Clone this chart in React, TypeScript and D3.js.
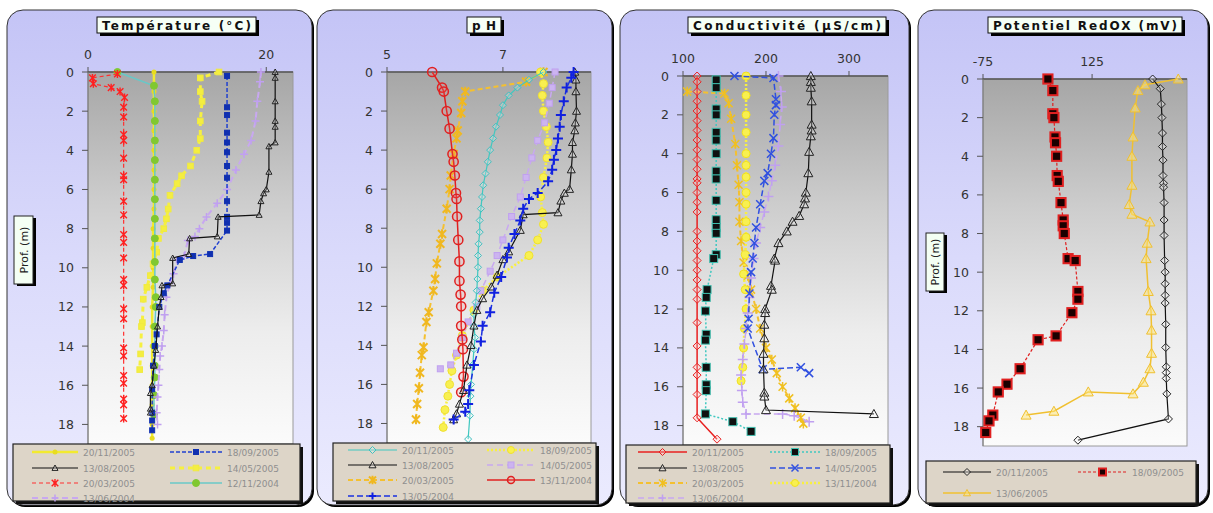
import React from "react";
import * as d3 from "d3";

type P = [number, number]; // [value, depth m]

// ---------------- Température (°C) ----------------
const tempXTicks = [0, 20];
const temp_201105: P[] = [[7.4,0],[7.4,1],[7.4,2],[7.4,3],[7.4,4],[7.4,5],[7.4,6],[7.4,7],[7.3,8],[7.3,9],[7.3,10],[7.3,11],[7.2,12],[7.2,13],[7.2,14],[7.2,15],[7.2,16],[7.2,17],[7.2,18],[7.2,18.7]];
const temp_130805: P[] = [[21,0],[21,0.3],[21,1.5],[21,2.5],[21,2.8],[21,3.6],[20.3,3.8],[20.3,5.1],[20,6],[19.7,6.2],[19.4,6.6],[19.2,7.3],[14.6,7.4],[14.5,8.4],[11.4,8.5],[11.3,9.3],[9.5,9.5],[9.5,10.8],[8.3,10.9],[8.2,11.5],[8.0,12.0],[7.8,13],[7.6,14.2],[7.4,15],[7.2,16],[7.0,16.4],[7.0,17.2],[7.0,17.4]];
const temp_200305: P[] = [[3.3,0.1],[0.5,0.3],[0.6,0.6],[2.6,0.8],[3.6,1.0],[4.1,1.3],[4.0,1.8],[4.0,2.3],[4.0,3.2],[4.0,3.5],[4.0,4.4],[4.0,5.3],[4.0,5.5],[4.0,6.6],[4.0,7.3],[4.0,8.3],[4.0,8.7],[4.0,9.5],[4.0,10.6],[4.0,10.9],[4.0,12.1],[4.0,12.6],[4.0,14.1],[4.0,14.5],[4.0,15.5],[4.0,15.9],[4.0,16.7],[4.0,17.0],[4.0,17.7]];
const temp_130604: P[] = [[19.4,0],[19.3,0.5],[19.0,1.5],[18.8,2.5],[18.3,3.5],[17.5,4.2],[16.6,5],[15.6,6],[14.5,6.7],[13.3,7.4],[12.5,8],[12,8.4],[11.2,8.6],[10.8,9.4],[10,9.6],[9.6,10.3],[9.2,10.8],[8.8,11.5],[8.6,12.4],[8.5,13.2],[8.3,14],[8.1,14.5],[8.0,15.2],[7.9,16],[7.8,16.6],[7.7,17.4],[7.8,18]];
const temp_180905: P[] = [[15.6,0.2],[15.6,1.8],[15.6,2.2],[15.6,3.1],[15.6,3.6],[15.6,4.1],[15.6,4.8],[15.6,5.4],[15.6,6.6],[15.6,7.4],[15.6,7.7],[15.6,8.1],[13.7,9.3],[11.8,9.4],[10.3,9.6],[8.9,10.9],[8.5,11.3],[8.0,12],[7.7,13.4],[7.5,14],[7.3,15],[7.2,16.2],[7.2,17.4],[7.2,17.8],[7.2,18.3]];
const temp_140505: P[] = [[14.7,0],[12.6,0.3],[12.6,1],[12.8,1.5],[12.6,2.5],[12.6,3.4],[12.2,4],[11.5,4.8],[10.5,5.3],[10,5.7],[9.2,6.3],[9.0,7.0],[8.8,7.5],[8.5,8],[7.9,8.5],[7.7,9.2],[7.3,9.8],[7.0,10.4],[6.6,11],[6.2,11.6],[6.1,12.8],[6.0,13],[5.9,14.4],[5.8,15.2]];
const temp_121104: P[] = [[3.3,0],[7.4,0.7],[7.5,1.5],[7.5,2.5],[7.5,3.5],[7.5,4.5],[7.5,5.5],[7.5,6.5],[7.5,7.5],[7.5,8.5],[7.5,9.7],[7.5,10.6],[7.6,11.5],[7.6,12],[7.5,13],[7.5,14],[7.5,15],[7.5,15.6],[7.4,16.5],[7.4,17.5]];

// ---------------- pH ----------------
const phXTicks = [5, 7];
const ph_201105: P[] = [[7.7,0],[7.45,0.4],[7.25,0.8],[7.1,1.2],[7.0,1.7],[6.95,2.2],[6.88,2.8],[6.83,3.4],[6.78,4.0],[6.74,4.6],[6.7,5.2],[6.66,5.8],[6.64,6.4],[6.62,7],[6.6,7.6],[6.6,8.2],[6.58,8.8],[6.57,9.4],[6.57,10],[6.56,10.6],[6.55,11.2],[6.53,11.8],[6.5,12.4],[6.5,13],[6.52,13.6],[6.5,14.2],[6.48,15],[6.45,16],[6.44,16.6],[6.43,17.6],[6.4,18.8]];
const ph_130805: P[] = [[8.24,0],[8.26,0.4],[8.26,1],[8.27,2],[8.25,2.6],[8.24,3],[8.2,3.6],[8.2,4.2],[8.18,5],[8.15,6],[8.06,6.2],[8.0,6.6],[7.95,7.2],[7.35,7.3],[7.3,8.1],[7.1,9.2],[7.0,9.6],[6.9,10.4],[6.8,11],[6.65,11.6],[6.55,12.2],[6.5,13],[6.45,14],[6.38,15],[6.32,16.3],[6.25,17],[6.2,17.5],[6.15,17.8]];
const ph_200305: P[] = [[7.7,0],[7.4,0.5],[6.35,1.0],[6.3,1.5],[6.28,2.1],[6.22,3.0],[6.2,3.4],[6.15,4.2],[6.1,5.3],[6.08,6.0],[6.03,7.0],[5.95,8.3],[5.92,8.8],[5.86,9.8],[5.83,10.6],[5.8,11.2],[5.72,12.3],[5.68,12.8],[5.63,14.1],[5.6,14.5],[5.57,15.4],[5.55,16.2],[5.52,17.0],[5.5,17.8]];
const ph_130504: P[] = [[8.22,0],[8.18,0.3],[8.1,0.8],[8.05,1.5],[8.0,2.2],[7.98,2.8],[7.95,3.4],[7.92,4.0],[7.88,4.5],[7.85,5.0],[7.78,5.6],[7.6,6.2],[7.45,6.5],[7.35,7],[7.3,7.6],[7.2,8.3],[7.1,9.0],[7.07,9.5],[6.97,10.5],[6.85,11.3],[6.78,12.3],[6.65,13],[6.62,13.8],[6.5,15],[6.42,16.3],[6.4,17],[6.35,17.4],[6.15,17.8]];
const ph_180905: P[] = [[7.65,0],[7.7,0.6],[7.68,1.2],[7.7,2],[7.75,2.8],[7.78,3.6],[7.76,4.4],[7.7,5.4],[7.65,6.4],[7.68,7.2],[7.7,7.8],[7.6,8.6],[7.45,9.4],[6.9,10.5],[6.65,11.2],[6.5,12.2],[6.3,13.5],[6.2,14.5],[6.12,15.3],[6.08,16.0],[6.05,16.6],[6.0,17.3],[5.97,18.2]];
const ph_140505: P[] = [[7.9,0],[7.85,0.8],[7.8,1.6],[7.72,2.6],[7.6,3.5],[7.5,4.4],[7.4,5.4],[7.3,6.4],[7.15,7.4],[7.0,8.6],[6.9,9.4],[6.78,10.2],[6.62,11.2],[6.55,12.0],[6.4,12.8],[6.3,13.6],[6.2,14.4],[6.1,15.0],[5.92,15.2]];
const ph_131104: P[] = [[5.78,0],[5.95,0.8],[5.98,1.0],[6.03,2.0],[6.08,2.9],[6.13,4.2],[6.15,4.6],[6.17,5.3],[6.19,6.2],[6.2,6.5],[6.21,7.4],[6.23,8.6],[6.25,9.7],[6.25,10.7],[6.27,11.4],[6.28,12.0],[6.28,13.0],[6.3,13.7],[6.31,14.2],[6.32,15.6],[6.28,16.4]];

// ---------------- Conductivité (µS/cm) ----------------
const condXTicks = [100, 200, 300];
const cond_201105: P[] = [[117,0],[117,0.3],[117,0.8],[117,1.3],[117,1.8],[117,2.3],[117,2.8],[117,3.3],[117,3.8],[117,4.3],[117,4.8],[117,5.3],[117,5.5],[117,6],[117,6.5],[117,7],[117,8],[117,8.5],[117,9],[117,9.5],[117,10],[117,10.5],[117,11],[117,11.5],[117,12.7],[117,13.9],[117,15],[117,15.4],[117,16.4],[117,17.6],[141,18.7]];
const cond_130805: P[] = [[254,0],[254,0.3],[254,0.6],[255,1.3],[255,2.5],[255,2.8],[254,3.1],[252,3.9],[251,5.0],[248,6.0],[247,6.3],[246,6.6],[240,7.2],[232,7.5],[225,8.0],[215,8.6],[210,9.4],[211,9.5],[206,10.8],[207,11.0],[199,12.0],[199,12.2],[198,12.8],[198,13.5],[197,14.3],[197,15.1],[198,16.3],[198,16.5],[200,17.2],[330,17.4]];
const cond_200305: P[] = [[105,0.8],[150,0.9],[155,1.4],[158,2.2],[163,3.5],[165,4.6],[167,5.6],[168,6.5],[168,7.5],[170,8.5],[173,9.6],[178,10.3],[182,11.0],[188,12.0],[193,13.0],[200,14.0],[207,14.6],[213,15.3],[220,16.0],[228,16.6],[235,17.1],[242,17.6],[245,17.9]];
const cond_130604: P[] = [[215,0],[218,0.8],[219,1.6],[217,2.5],[215,3.6],[211,4.6],[207,5.4],[203,6.2],[198,7.0],[193,7.8],[188,8.6],[185,9.4],[182,10.4],[180,11.4],[178,12.2],[176,13.0],[174,13.8],[172,14.6],[170,15.4],[171,16.2],[172,16.8],[176,17.4],[220,17.4],[234,17.5],[252,17.8]];
const cond_180905: P[] = [[140,0.2],[140,0.6],[140,1.7],[140,2.0],[140,2.9],[140,3.3],[140,4.0],[140,4.9],[140,5.3],[140,6.4],[140,7.4],[140,7.8],[140,8.1],[140,9.2],[137,9.4],[129,11.0],[128,11.4],[127,12.1],[128,13.3],[127,13.6],[128,15.0],[128,15.9],[128,16.2],[127,17.4],[160,17.8],[182,18.3]];
const cond_140505: P[] = [[162,0],[209,0.1],[212,1.2],[212,1.5],[210,2.0],[209,3.2],[206,4.0],[202,5.0],[198,5.4],[193,6.6],[188,7.8],[186,8.6],[184,9.4],[182,10.1],[180,11.2],[179,12.5],[178,13.0],[196,15.1],[242,15.0],[252,15.3]];
const cond_131104: P[] = [[176,0],[176,1],[176,2],[176,2.9],[176,4],[176,4.6],[176,5.2],[176,6],[176,6.6],[176,7.5],[176,8.3],[175,9.2],[173,10.2],[175,11.0],[176,12.0],[174,13.0],[173,14.0],[172,15.0],[170,15.7]];

// ---------------- Potentiel RedOX (mV) ----------------
const redoxXTicks = [-75, 125];
const redox_201105: P[] = [[236,0],[250,0.5],[252,1.3],[253,2],[254,2.8],[254,3.5],[255,4.2],[255,5],[256,5.4],[256,5.6],[257,6.4],[257,7.3],[257,8.1],[258,9.4],[259,10],[259,10.6],[259,11.2],[259,11.6],[260,12.7],[260,13.9],[261,14.9],[261,15.2],[261,15.5],[262,16.3],[265,17.6],[99,18.7]];
const redox_180905: P[] = [[44,0],[53,0.6],[53,1.8],[55,2],[57,3],[58,3.3],[60,4],[61,5],[63,5.3],[68,6.4],[72,7.3],[72,7.6],[74,8],[81,9.3],[94,9.4],[99,11],[99,11.4],[88,12.1],[59,13.3],[26,13.5],[-7,15],[-31,15.8],[-47,16.2],[-57,17.4],[-64,17.7],[-70,18.3]];
const redox_130605: P[] = [[283,0],[222,0.3],[209,0.6],[204,1.5],[200,3],[198,4],[198,5.5],[193,6.5],[198,7],[231,7.4],[226,8.5],[224,9.3],[228,11],[233,12],[234,13],[234,14.2],[231,15],[219,15.7],[200,16.3],[118,16.2],[55,17.2],[4,17.4]];

// ---------------- styles ----------------
type St = { line: string; w: number; dash?: string; m: string; mStroke: string; mFill: string; s: number; sw?: number };
const BLACK_TRI: St = { line: "#111", w: 1.2, m: "triangle", mStroke: "#222", mFill: "rgba(255,255,255,0.25)", s: 4 };

type Series = { label: string; data: P[]; st: St };

const tempSeries: Series[] = [
  { label: "20/11/2005", data: temp_201105, st: { line: "#f2ea30", w: 2.5, m: "dot", mStroke: "#e8dc20", mFill: "#e8dc20", s: 2.5 } },
  { label: "14/05/2005", data: temp_140505, st: { line: "#f6f040", w: 3, dash: "5,4", m: "square", mStroke: "#f0ea40", mFill: "#f4ee40", s: 2.8 } },
  { label: "12/11/2004", data: temp_121104, st: { line: "#68c8c8", w: 1.5, m: "circle", mStroke: "#80c830", mFill: "#80c830", s: 3.5 } },
  { label: "20/03/2005", data: temp_200305, st: { line: "#ff3030", w: 1.2, dash: "4,3", m: "asterisk", mStroke: "#ff2020", mFill: "none", s: 3.3, sw: 1.4 } },
  { label: "13/06/2004", data: temp_130604, st: { line: "#c8a8f0", w: 2, dash: "6,4", m: "plus", mStroke: "#c0a0f0", mFill: "none", s: 4, sw: 1.5 } },
  { label: "18/09/2005", data: temp_180905, st: { line: "#2040d0", w: 1.5, dash: "4,2", m: "square", mStroke: "#1030b0", mFill: "#1030b0", s: 2.5 } },
  { label: "13/08/2005", data: temp_130805, st: { ...BLACK_TRI, s: 3 } },
];
const tempLegend = [["20/11/2005", "13/08/2005", "20/03/2005", "13/06/2004"], ["18/09/2005", "14/05/2005", "12/11/2004"]];

const phSeries: Series[] = [
  { label: "20/03/2005", data: ph_200305, st: { line: "#f4c030", w: 2, dash: "5,3", m: "asterisk", mStroke: "#f0b820", mFill: "none", s: 4, sw: 2 } },
  { label: "18/09/2005", data: ph_180905, st: { line: "#f8f040", w: 2.5, dash: "2,2", m: "circle", mStroke: "#f0e030", mFill: "#f8f050", s: 4 } },
  { label: "14/05/2005", data: ph_140505, st: { line: "#c8a8f0", w: 1.5, dash: "6,4", m: "square", mStroke: "#c0a0f0", mFill: "#ccb4f0", s: 3 } },
  { label: "20/11/2005", data: ph_201105, st: { line: "#40c8c0", w: 1.2, m: "diamond", mStroke: "#40c0c0", mFill: "rgba(255,255,255,0.2)", s: 3.5 } },
  { label: "13/11/2004", data: ph_131104, st: { line: "#e02020", w: 1.5, m: "circle", mStroke: "#e02020", mFill: "rgba(255,120,120,0.15)", s: 4.6, sw: 1.5 } },
  { label: "13/08/2005", data: ph_130805, st: BLACK_TRI },
  { label: "13/05/2004", data: ph_130504, st: { line: "#1a30e0", w: 1.5, dash: "6,3", m: "plus", mStroke: "#1020e0", mFill: "none", s: 5, sw: 2 } },
];
const phLegend = [["20/11/2005", "13/08/2005", "20/03/2005", "13/05/2004"], ["18/09/2005", "14/05/2005", "13/11/2004"]];

const condSeries: Series[] = [
  { label: "20/03/2005", data: cond_200305, st: { line: "#f4c030", w: 2, dash: "5,3", m: "asterisk", mStroke: "#f0c020", mFill: "none", s: 4, sw: 1.5 } },
  { label: "13/11/2004", data: cond_131104, st: { line: "#f8f040", w: 2.5, dash: "2,2", m: "circle", mStroke: "#f0e020", mFill: "#f8f050", s: 4 } },
  { label: "13/06/2004", data: cond_130604, st: { line: "#c8a8f0", w: 1.5, dash: "6,4", m: "plus", mStroke: "#c0a0f0", mFill: "none", s: 5, sw: 1.5 } },
  { label: "14/05/2005", data: cond_140505, st: { line: "#3050e0", w: 1.5, dash: "6,3", m: "x", mStroke: "#3050e0", mFill: "none", s: 4, sw: 1.5 } },
  { label: "18/09/2005", data: cond_180905, st: { line: "#40c8c0", w: 1.5, dash: "2,2", m: "square", mStroke: "#40c0b0", mFill: "#101010", s: 4 } },
  { label: "20/11/2005", data: cond_201105, st: { line: "#e82020", w: 1.5, m: "diamond", mStroke: "#e82020", mFill: "rgba(255,200,200,0.3)", s: 4 } },
  { label: "13/08/2005", data: cond_130805, st: { ...BLACK_TRI, s: 4.5 } },
];
const condLegend = [["20/11/2005", "13/08/2005", "20/03/2005", "13/06/2004"], ["18/09/2005", "14/05/2005", "13/11/2004"]];

const redoxSeries: Series[] = [
  { label: "13/06/2005", data: redox_130605, st: { line: "#f0c030", w: 1.5, m: "triangle", mStroke: "#f0c030", mFill: "rgba(255,230,120,0.5)", s: 5 } },
  { label: "20/11/2005", data: redox_201105, st: { line: "#111", w: 1.2, m: "diamond", mStroke: "#222", mFill: "rgba(255,255,255,0.3)", s: 4 } },
  { label: "18/09/2005", data: redox_180905, st: { line: "#e02020", w: 1.2, dash: "3,2", m: "square", mStroke: "#e02020", mFill: "#1a0000", s: 4.6, sw: 2 } },
];
const redoxLegend = [["20/11/2005", "13/06/2005"], ["18/09/2005"]];

const depthTicks = [0, 2, 4, 6, 8, 10, 12, 14, 16, 18];

type Cfg = {
  id: string;
  outer: { x: number; y: number; w: number; h: number };
  plot: { l: number; t: number; r: number; b: number };
  xDomain: [number, number];
  xTicks: number[];
  title: string;
  titleBox: { x: number; w: number };
  prof?: { x: number; y: number; w: number; h: number };
  series: Series[];
  legendCols: string[][];
  legendBox: { x: number; y: number; w: number; h: number };
  legendRows: number[];
  legendColX: [number, number][];
};

const panels: Cfg[] = [
  {
    id: "t", outer: { x: 7, y: 10, w: 305, h: 495 }, plot: { l: 88, t: 72, r: 293, b: 444 },
    xDomain: [0, 23], xTicks: tempXTicks, title: "Température (°C)", titleBox: { x: 97, w: 159 },
    prof: { x: 14, y: 216, w: 19, h: 68 }, series: tempSeries, legendCols: tempLegend,
    legendBox: { x: 13, y: 444, w: 287, h: 57 }, legendRows: [452, 468, 483, 498], legendColX: [[32, 78], [170, 222]],
  },
  {
    id: "p", outer: { x: 317, y: 10, w: 295, h: 495 }, plot: { l: 387, t: 72, r: 591, b: 443 },
    xDomain: [5, 8.52], xTicks: phXTicks, title: "pH", titleBox: { x: 467, w: 34 },
    series: phSeries, legendCols: phLegend,
    legendBox: { x: 333, y: 443, w: 263, h: 58 }, legendRows: [450, 465, 480, 496], legendColX: [[348, 397], [487, 535]],
  },
  {
    id: "c", outer: { x: 620, y: 10, w: 289, h: 495 }, plot: { l: 683, t: 76, r: 888, b: 445 },
    xDomain: [100, 347], xTicks: condXTicks, title: "Conductivité (µS/cm)", titleBox: { x: 688, w: 198 },
    series: condSeries, legendCols: condLegend,
    legendBox: { x: 626, y: 445, w: 264, h: 58 }, legendRows: [452, 468, 483, 498], legendColX: [[638, 687], [770, 820]],
  },
  {
    id: "r", outer: { x: 918, y: 10, w: 290, h: 495 }, plot: { l: 983, t: 79, r: 1187, b: 446 },
    xDomain: [-75, 299], xTicks: redoxXTicks, title: "Potentiel RedOX (mV)", titleBox: { x: 988, w: 194 },
    prof: { x: 926, y: 233, w: 18, h: 58 }, series: redoxSeries, legendCols: redoxLegend,
    legendBox: { x: 926, y: 461, w: 270, h: 42 }, legendRows: [472, 493], legendColX: [[943, 991], [1078, 1127]],
  },
];

function Marker({ t, x, y, st }: { t: string; x: number; y: number; st: St }) {
  const s = st.s;
  const sw = st.sw ?? 1;
  switch (t) {
    case "triangle":
      return <path d={`M${x},${y - s}L${x + s},${y + s * 0.8}L${x - s},${y + s * 0.8}Z`} fill={st.mFill} stroke={st.mStroke} strokeWidth={sw} />;
    case "square":
      return <rect x={x - s} y={y - s} width={2 * s} height={2 * s} fill={st.mFill} stroke={st.mStroke} strokeWidth={sw} />;
    case "circle":
      return <circle cx={x} cy={y} r={s} fill={st.mFill} stroke={st.mStroke} strokeWidth={sw} />;
    case "dot":
      return <circle cx={x} cy={y} r={s} fill={st.mFill} stroke="none" />;
    case "diamond":
      return <path d={`M${x},${y - s}L${x + s},${y}L${x},${y + s}L${x - s},${y}Z`} fill={st.mFill} stroke={st.mStroke} strokeWidth={sw} />;
    case "asterisk":
      return <path d={`M${x - s},${y - s}L${x + s},${y + s}M${x - s},${y + s}L${x + s},${y - s}M${x},${y - s * 1.2}L${x},${y + s * 1.2}`} stroke={st.mStroke} strokeWidth={sw} fill="none" />;
    case "plus":
      return <path d={`M${x - s},${y}L${x + s},${y}M${x},${y - s}L${x},${y + s}`} stroke={st.mStroke} strokeWidth={sw} fill="none" />;
    case "x":
      return <path d={`M${x - s},${y - s}L${x + s},${y + s}M${x - s},${y + s}L${x + s},${y - s}`} stroke={st.mStroke} strokeWidth={sw} fill="none" />;
    default:
      return null;
  }
}

const FONT = "DejaVu Sans, Verdana, sans-serif";

function Panel({ cfg }: { cfg: Cfg }) {
  const { outer, plot } = cfg;
  const x = d3.scaleLinear().domain(cfg.xDomain).range([plot.l, plot.r]);
  const y = d3.scaleLinear().domain([0, 19]).range([plot.t, plot.b]);
  const line = d3.line<P>().x((d) => x(d[0])).y((d) => y(d[1]));
  const byLabel = new Map(cfg.series.map((s) => [s.label, s]));
  const tb = cfg.titleBox;
  return (
    <g>
      <defs>
        <linearGradient id={`bg-${cfg.id}`} x1="0" y1="0" x2="0" y2="1">
          <stop offset="0" stopColor="#c4c4f6" />
          <stop offset="0.5" stopColor="#dadafb" />
          <stop offset="1" stopColor="#ebebfe" />
        </linearGradient>
        <linearGradient id={`pl-${cfg.id}`} x1="0" y1="0" x2="0" y2="1">
          <stop offset="0" stopColor="#a6a6a6" />
          <stop offset="0.35" stopColor="#cdcdcd" />
          <stop offset="0.7" stopColor="#ededed" />
          <stop offset="1" stopColor="#fbfbfb" />
        </linearGradient>
      </defs>
      <rect x={outer.x + 2} y={outer.y + 2} width={outer.w} height={outer.h} rx={16} fill="#000" />
      <rect x={outer.x} y={outer.y} width={outer.w} height={outer.h} rx={16} fill={`url(#bg-${cfg.id})`} stroke="#333" strokeWidth={1} />
      <rect x={plot.l} y={plot.t} width={plot.r - plot.l} height={plot.b - plot.t} fill={`url(#pl-${cfg.id})`} stroke="#9a9a9a" strokeWidth={1} />
      <line x1={plot.l} x2={plot.r} y1={plot.t} y2={plot.t} stroke="#555" strokeWidth={1.5} />
      <line x1={plot.l} x2={plot.l} y1={plot.t} y2={plot.b} stroke="#777" strokeWidth={1} />
      {cfg.xTicks.map((t) => (
        <g key={`xt${t}`}>
          <line x1={x(t)} x2={x(t)} y1={plot.t - 5} y2={plot.t} stroke="#555" />
          <text x={x(t)} y={plot.t - 13} textAnchor="middle" fontFamily={FONT} fontSize={12.5} fill="#333">{t}</text>
        </g>
      ))}
      {depthTicks.map((t) => (
        <g key={`yt${t}`}>
          <line x1={plot.l - 6} x2={plot.l} y1={y(t)} y2={y(t)} stroke="#555" />
          <text x={plot.l - 14} y={y(t) + 4.5} textAnchor="end" fontFamily={FONT} fontSize={12.5} fill="#333">{t}</text>
        </g>
      ))}
      {cfg.series.map((s) => (
        <g key={s.label}>
          <path d={line(s.data) ?? ""} fill="none" stroke={s.st.line} strokeWidth={s.st.w} strokeDasharray={s.st.dash} />
          {s.data.map((d, i) => (
            <Marker key={i} t={s.st.m} x={x(d[0])} y={y(d[1])} st={s.st} />
          ))}
        </g>
      ))}
      <rect x={tb.x + 3} y={20} width={tb.w} height={16} fill="#000" />
      <rect x={tb.x} y={17} width={tb.w} height={16} fill="#f6fff6" stroke="#111" strokeWidth={1} />
      <text x={tb.x + 5} y={30} fontFamily={FONT} fontWeight="bold" fontSize={12} fill="#111"
        textLength={tb.w - 10} lengthAdjust="spacing">{cfg.title}</text>
      {cfg.prof && (
        <g>
          <rect x={cfg.prof.x + 3} y={cfg.prof.y + 2} width={cfg.prof.w} height={cfg.prof.h} fill="#000" />
          <rect x={cfg.prof.x} y={cfg.prof.y} width={cfg.prof.w} height={cfg.prof.h} fill="#f4fff4" stroke="#222" />
          <text transform={`translate(${cfg.prof.x + cfg.prof.w / 2 + 4},${cfg.prof.y + cfg.prof.h / 2}) rotate(-90)`}
            textAnchor="middle" fontFamily={FONT} fontSize={11} fill="#222">Prof. (m)</text>
        </g>
      )}
      <rect x={cfg.legendBox.x + 3} y={cfg.legendBox.y + 3} width={cfg.legendBox.w} height={cfg.legendBox.h} fill="#111" />
      <rect x={cfg.legendBox.x} y={cfg.legendBox.y} width={cfg.legendBox.w} height={cfg.legendBox.h} fill="#ddd5c8" stroke="#222" strokeWidth={1.2} />
      {cfg.legendCols.map((col, ci) =>
        col.map((lab, ri) => {
          const s = byLabel.get(lab)!;
          const [x0, x1] = cfg.legendColX[ci];
          const yy = cfg.legendRows[ri];
          const mx = (x0 + x1) / 2;
          return (
            <g key={`${ci}-${ri}`}>
              <line x1={x0} x2={x1} y1={yy} y2={yy} stroke={s.st.line} strokeWidth={s.st.w} strokeDasharray={s.st.dash} />
              <Marker t={s.st.m} x={mx} y={yy} st={{ ...s.st, s: Math.min(s.st.s, 3.5) }} />
              <text x={x1 + 5} y={yy + 3.5} fontFamily={FONT} fontSize={9} fill="#8f8f8f">{lab}</text>
            </g>
          );
        })
      )}
    </g>
  );
}

export default function App() {
  return (
    <svg width={1213} height={513} style={{ position: "absolute", left: 0, top: 0, background: "#fff" }}>
      {panels.map((p) => (
        <Panel key={p.id} cfg={p} />
      ))}
    </svg>
  );
}
